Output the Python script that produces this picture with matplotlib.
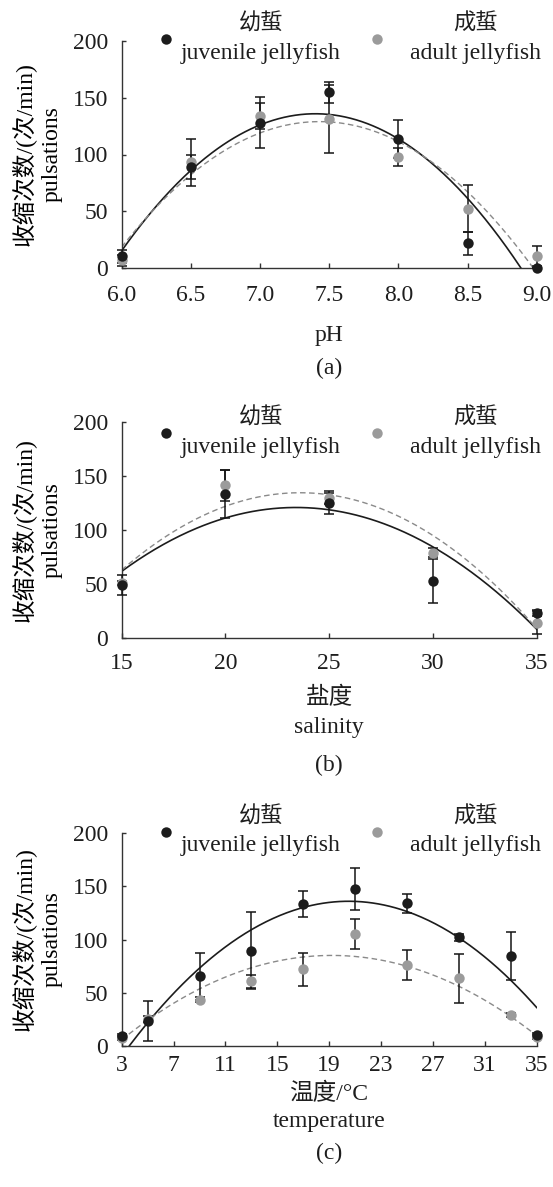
import numpy as np
import matplotlib
matplotlib.use("Agg")
import matplotlib.pyplot as plt

plt.rcParams["font.family"] = ["Liberation Serif", "Noto Sans CJK SC"]
plt.rcParams["font.size"] = 17
plt.rcParams["text.color"] = "#1e1e1e"

# (a) pH
PH = [6.0, 6.5, 7.0, 7.5, 8.0, 8.5, 9.0]
PH_JUV = [10.5, 89, 128, 154.5, 113.5, 22, 0]
PH_JUV_ERR = [6, 10.5, 22.5, 9.5, 17, 10, 0]
PH_ADU = [7, 93, 134, 131, 98, 52.5, 11]
PH_ADU_ERR = [5, 21, 11.5, 30, 8, 20.5, 9]

# (b) salinity
SAL = [15, 20, 25, 30, 35]
SAL_JUV = [49, 133.5, 125.5, 52.5, 23]
SAL_JUV_ERR = [9.5, 22.5, 10.5, 20.5, 2.5]
SAL_ADU = [51, 141.5, 129.5, 79, 14]
SAL_ADU_ERR = [2, 14.5, 5, 4, 11]

# (c) temperature
TEMP = [3, 5, 9, 13, 17, 21, 25, 29, 33, 35]
TEMP_JUV = [9, 23, 65.5, 89.5, 133.5, 147.5, 134, 102, 84.5, 10]
TEMP_JUV_ERR = [2, 19, 22, 36, 12, 19.5, 9, 3, 23, 2]
TEMP_ADU = [7.5, 25, 43.5, 60.5, 72, 105, 76, 63.5, 29, 8.5]
TEMP_ADU_ERR = [2, 3, 2.5, 6.5, 15.5, 14, 14, 23, 2, 2]

# quadratic trend lines: (x at peak, peak value, curvature)
PH_JUV_FIT = (7.40, 135.8, 61.4)
PH_ADU_FIT = (7.43, 128.9, 53.9)
SAL_JUV_FIT = (23.4, 120.9, 0.84)
SAL_ADU_FIT = (23.6, 134.6, 0.97)
TEMP_JUV_FIT = (20.5, 136.0, 0.476)
TEMP_ADU_FIT = (19.2, 85.0, 0.3026)

PH_TICKS = [6.0, 6.5, 7.0, 7.5, 8.0, 8.5, 9.0]
SAL_TICKS = [15, 20, 25, 30, 35]
TEMP_TICKS = [3, 7, 11, 15, 19, 23, 27, 31, 35]
Y_TICKS = [0, 50, 100, 150, 200]

YLABEL = "收缩次数/(次/min)\npulsations"
LEG_JUV = ("幼蜇", "juvenile jellyfish")
LEG_ADU = ("成蜇", "adult jellyfish")

W, H = 553, 1187
JUV_C = "#1c1c1c"
ADU_C = "#9b9b9b"


def px(x, y):
    return x / W, 1 - y / H


def quad(fit, xs):
    x0, top, k = fit
    return top - k * (xs - x0) ** 2


def panel(top, height, xs, juv, juv_err, adu, adu_err, fj, fa, ticks, fmt, leg_y, xpad):
    l, b = px(121.7, top + height)
    ax = fig.add_axes([l, b, 415 / W, height / H])
    xlo, xhi = ticks[0], ticks[-1]
    grid = np.linspace(xlo, xhi, 300)
    ax.plot(grid, quad(fj, grid), color=JUV_C, lw=1.2, zorder=2)
    ax.plot(grid, quad(fa, grid), color="#8a8a8a", lw=1.0,
            linestyle=(0, (4, 2.5)), zorder=2)
    ax.errorbar(xs, juv, yerr=juv_err, fmt="none", ecolor="#151515",
                elinewidth=1.1, capsize=3.8, capthick=1.1, zorder=3, clip_on=False)
    ax.errorbar(xs, adu, yerr=adu_err, fmt="none", ecolor="#151515",
                elinewidth=1.1, capsize=3.8, capthick=1.1, zorder=3, clip_on=False)
    ax.plot(xs, adu, "o", color=ADU_C, ms=7.5, mew=0, zorder=4, clip_on=False)
    ax.plot(xs, juv, "o", color=JUV_C, ms=7.5, mew=0, zorder=5, clip_on=False)

    ax.set_xlim(xlo, xhi)
    ax.set_ylim(0, 200)
    ax.set_xticks(ticks)
    ax.set_xticklabels([fmt.format(t) for t in ticks])
    ax.set_yticks(Y_TICKS)
    for s in ["top", "right"]:
        ax.spines[s].set_visible(False)
    for s in ["left", "bottom"]:
        ax.spines[s].set_linewidth(1.0)
        ax.spines[s].set_color("#333333")
    ax.tick_params(axis="x", direction="in", length=3.6, width=1.0, pad=xpad, colors="#333333",
                   labelcolor="#1e1e1e")
    ax.tick_params(axis="y", direction="in", length=3.0, width=1.0, pad=10, colors="#333333",
                   labelcolor="#1e1e1e")
    ax.set_ylabel(YLABEL, multialignment="center", labelpad=7, linespacing=1.4)

    # legend drawn by hand: marker then two centred lines
    for (mx, cx), col, lab in [((166, 261), JUV_C, LEG_JUV), ((377, 475), ADU_C, LEG_ADU)]:
        ax.plot(*px(mx, leg_y), "o", color=col, ms=7.5, mew=0,
                transform=fig.transFigure, clip_on=False)
        fig.text(*px(cx, leg_y - 15), lab[0], ha="center", va="center", fontsize=16)
        fig.text(*px(cx, leg_y + 14), lab[1], ha="center", va="center")
    return ax


fig = plt.figure(figsize=(W / 100, H / 100), dpi=100)

panel(40.7, 227.6, PH, PH_JUV, PH_JUV_ERR, PH_ADU, PH_ADU_ERR,
      PH_JUV_FIT, PH_ADU_FIT, PH_TICKS, "{:.1f}", 39, 12)
fig.text(*px(329, 335), "pH", ha="center", va="center")
fig.text(*px(329, 368), "(a)", ha="center", va="center")

panel(422.3, 215.4, SAL, SAL_JUV, SAL_JUV_ERR, SAL_ADU, SAL_ADU_ERR,
      SAL_JUV_FIT, SAL_ADU_FIT, SAL_TICKS, "{:d}", 433, 11)
fig.text(*px(329, 698), "盐度", ha="center", va="center")
fig.text(*px(329, 727), "salinity", ha="center", va="center")
fig.text(*px(329, 765), "(b)", ha="center", va="center")

panel(833.3, 212.4, TEMP, TEMP_JUV, TEMP_JUV_ERR, TEMP_ADU, TEMP_ADU_ERR,
      TEMP_JUV_FIT, TEMP_ADU_FIT, TEMP_TICKS, "{:d}", 832, 7)
fig.text(*px(329, 1094), "温度/°C", ha="center", va="center")
fig.text(*px(329, 1122), "temperature", ha="center", va="center")
fig.text(*px(329, 1153), "(c)", ha="center", va="center")

fig.savefig("out.png", dpi=100)
